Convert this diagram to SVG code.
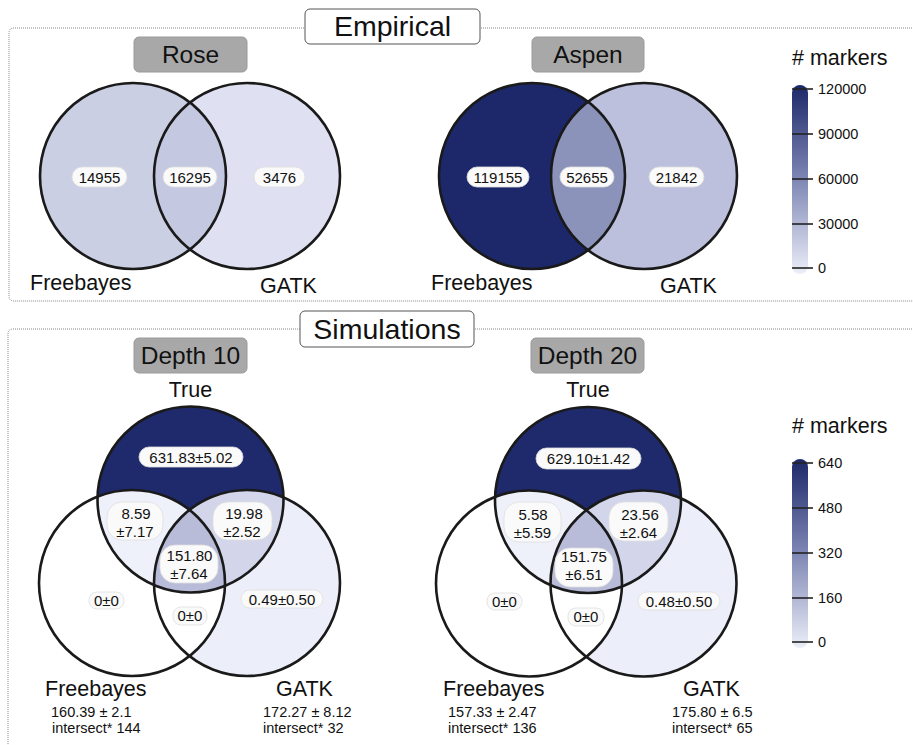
<svg xmlns="http://www.w3.org/2000/svg" width="913" height="745" viewBox="0 0 913 745">
<defs>
<style>
text{font-family:"Liberation Sans",Arial,sans-serif;fill:#111}
.frame{fill:none;stroke:#8a8a8a;stroke-width:1;stroke-dasharray:1 1}
.lbl{fill:#fff;stroke:#555;stroke-width:1}
.tag{fill:#a8a8a8;stroke:#9a9a9a;stroke-width:1}
.title{font-size:28.5px;text-anchor:middle}
.tagt{font-size:24.5px;text-anchor:middle}
.set{font-size:21.5px}
.ring{fill:none;stroke:#1a1a1a;stroke-width:2.6}
.pill{fill:#fafafa;stroke:#dedede;stroke-width:0.8}
.num{font-size:15px;text-anchor:middle}
.sub{font-size:14.5px}
.tick{stroke:#222;stroke-width:1.6}
.tl{font-size:14.5px}
</style>
<linearGradient id="gb" x1="0" y1="0" x2="0" y2="1">
<stop offset="0" stop-color="#1c2869"/>
<stop offset="0.5" stop-color="#7e87b4"/>
<stop offset="1" stop-color="#eceef8"/>
</linearGradient>
<clipPath id="cRoseL"><circle cx="133" cy="176" r="93"/></clipPath>
<clipPath id="cAspL"><circle cx="532" cy="176" r="93"/></clipPath>
<clipPath id="cT10"><circle cx="190.5" cy="499.5" r="93"/></clipPath>
<clipPath id="cF10"><circle cx="132" cy="583" r="93"/></clipPath>
<clipPath id="cT20"><circle cx="588" cy="500" r="93"/></clipPath>
<clipPath id="cF20"><circle cx="529" cy="583.5" r="93"/></clipPath>
</defs>

<g id="frames">
<path class="frame" d="M920 28 H14 Q9 28 9 33 V296 Q9 301 14 301 H920"/>
<path class="frame" d="M920 329 H13 Q8 329 8 334 V750"/>
</g>

<g id="empirical-label">
<rect class="lbl" x="305" y="9" width="175" height="35" rx="5"/>
<text class="title" x="392.5" y="36">Empirical</text>
</g>
<g id="simulations-label">
<rect class="lbl" x="300" y="311" width="174" height="36" rx="5"/>
<text class="title" x="387" y="339">Simulations</text>
</g>

<g id="rose">
<rect class="tag" x="134" y="37" width="113" height="35" rx="5"/>
<text class="tagt" x="190.5" y="63">Rose</text>
<circle cx="133" cy="176" r="93" fill="#cbcfe4"/>
<circle cx="247" cy="176" r="93" fill="#dfe1f2"/>
<circle cx="247" cy="176" r="93" fill="#c4c8e0" clip-path="url(#cRoseL)"/>
<circle class="ring" cx="133" cy="176" r="93"/>
<circle class="ring" cx="247" cy="176" r="93"/>
<rect class="pill" x="72" y="167" width="55" height="20" rx="10"/>
<text class="num" x="99.5" y="182.5">14955</text>
<rect class="pill" x="163" y="167" width="54" height="20" rx="10"/>
<text class="num" x="190" y="182.5">16295</text>
<rect class="pill" x="254" y="167" width="51" height="20" rx="10"/>
<text class="num" x="279.5" y="182.5">3476</text>
<text class="set" x="30" y="290">Freebayes</text>
<text class="set" x="260" y="293">GATK</text>
</g>

<g id="aspen">
<rect class="tag" x="532" y="37" width="112" height="35" rx="5"/>
<text class="tagt" x="588" y="63">Aspen</text>
<circle cx="532" cy="176" r="93" fill="#1c2869"/>
<circle cx="644" cy="176" r="93" fill="#bcc0dc"/>
<circle cx="644" cy="176" r="93" fill="#8b93bb" clip-path="url(#cAspL)"/>
<circle class="ring" cx="532" cy="176" r="93"/>
<circle class="ring" cx="644" cy="176" r="93"/>
<rect class="pill" x="467" y="167" width="62" height="20" rx="10"/>
<text class="num" x="498" y="182.5">119155</text>
<rect class="pill" x="560" y="167" width="54" height="20" rx="10"/>
<text class="num" x="587" y="182.5">52655</text>
<rect class="pill" x="649" y="167" width="55" height="20" rx="10"/>
<text class="num" x="676.5" y="182.5">21842</text>
<text class="set" x="431" y="290">Freebayes</text>
<text class="set" x="660" y="293">GATK</text>
</g>

<g id="legend-empirical">
<text class="set" x="792" y="65"># markers</text>
<rect x="792" y="85" width="16" height="189" rx="8" fill="url(#gb)"/>
<line class="tick" x1="792" y1="89" x2="813" y2="89"/>
<line class="tick" x1="792" y1="134" x2="813" y2="134"/>
<line class="tick" x1="792" y1="179" x2="813" y2="179"/>
<line class="tick" x1="792" y1="224" x2="813" y2="224"/>
<line class="tick" x1="792" y1="268" x2="813" y2="268"/>
<text class="tl" x="818" y="94">120000</text>
<text class="tl" x="818" y="139">90000</text>
<text class="tl" x="818" y="184">60000</text>
<text class="tl" x="818" y="229">30000</text>
<text class="tl" x="818" y="273">0</text>
</g>

<g id="depth10">
<rect class="tag" x="134" y="338" width="113" height="35" rx="5"/>
<text class="tagt" x="190.5" y="364">Depth 10</text>
<text class="set" x="190.5" y="397" text-anchor="middle">True</text>
<circle cx="247" cy="583" r="93" fill="#eceffa"/>
<circle cx="132" cy="583" r="93" fill="#ffffff"/>
<circle cx="190.5" cy="499.5" r="93" fill="#1f2a6c"/>
<circle cx="132" cy="583" r="93" fill="#eef0fa" clip-path="url(#cT10)"/>
<circle cx="247" cy="583" r="93" fill="#d3d6ea" clip-path="url(#cT10)"/>
<g clip-path="url(#cT10)"><circle cx="247" cy="583" r="93" fill="#b8bcd9" clip-path="url(#cF10)"/></g>
<circle class="ring" cx="190.5" cy="499.5" r="93"/>
<circle class="ring" cx="132" cy="583" r="93"/>
<circle class="ring" cx="247" cy="583" r="93"/>
<rect class="pill" x="139" y="447" width="104" height="20" rx="10"/>
<text class="num" x="191" y="462.5">631.83±5.02</text>
<rect class="pill" x="107" y="502" width="56" height="38" rx="15"/>
<text class="num" x="136" y="519">8.59</text>
<text class="num" x="135" y="536.5">±7.17</text>
<rect class="pill" x="213" y="502" width="59" height="38" rx="15"/>
<text class="num" x="244" y="519">19.98</text>
<text class="num" x="242" y="536.5">±2.52</text>
<rect class="pill" x="160" y="545" width="58" height="38" rx="15"/>
<text class="num" x="189.5" y="561">151.80</text>
<text class="num" x="189" y="578.5">±7.64</text>
<rect class="pill" x="89" y="592" width="35" height="17" rx="8"/>
<text class="num" x="106.5" y="605.5">0±0</text>
<rect class="pill" x="173" y="607" width="34" height="18" rx="8"/>
<text class="num" x="190" y="621">0±0</text>
<rect class="pill" x="241" y="590" width="82" height="18" rx="9"/>
<text class="num" x="282" y="604.5">0.49±0.50</text>
<text class="set" x="45" y="696">Freebayes</text>
<text class="sub" x="51" y="717">160.39 ± 2.1</text>
<text class="sub" x="52" y="733">intersect* 144</text>
<text class="set" x="276" y="696">GATK</text>
<text class="sub" x="263" y="717">172.27 ± 8.12</text>
<text class="sub" x="263" y="733">intersect*  32</text>
</g>

<g id="depth20">
<rect class="tag" x="531" y="338" width="113" height="35" rx="5"/>
<text class="tagt" x="587.5" y="364">Depth 20</text>
<text class="set" x="588" y="397" text-anchor="middle">True</text>
<circle cx="643.5" cy="583.5" r="93" fill="#eceffa"/>
<circle cx="529" cy="583.5" r="93" fill="#ffffff"/>
<circle cx="588" cy="500" r="93" fill="#1f2a6c"/>
<circle cx="529" cy="583.5" r="93" fill="#eef0fa" clip-path="url(#cT20)"/>
<circle cx="643.5" cy="583.5" r="93" fill="#d3d6ea" clip-path="url(#cT20)"/>
<g clip-path="url(#cT20)"><circle cx="643.5" cy="583.5" r="93" fill="#b8bcd9" clip-path="url(#cF20)"/></g>
<circle class="ring" cx="588" cy="500" r="93"/>
<circle class="ring" cx="529" cy="583.5" r="93"/>
<circle class="ring" cx="643.5" cy="583.5" r="93"/>
<rect class="pill" x="536" y="448" width="105" height="21" rx="10.5"/>
<text class="num" x="588.5" y="463.5">629.10±1.42</text>
<rect class="pill" x="504" y="502" width="57" height="40" rx="15"/>
<text class="num" x="533" y="520">5.58</text>
<text class="num" x="532.5" y="537.5">±5.59</text>
<rect class="pill" x="609" y="502" width="59" height="39" rx="15"/>
<text class="num" x="640" y="520">23.56</text>
<text class="num" x="638.5" y="537.5">±2.64</text>
<rect class="pill" x="555" y="548" width="58" height="39" rx="15"/>
<text class="num" x="584" y="562">151.75</text>
<text class="num" x="584" y="579.5">±6.51</text>
<rect class="pill" x="487" y="593" width="35" height="17" rx="8"/>
<text class="num" x="504.5" y="606.5">0±0</text>
<rect class="pill" x="568" y="608" width="36" height="18" rx="8"/>
<text class="num" x="586" y="622">0±0</text>
<rect class="pill" x="638" y="592" width="82" height="18" rx="9"/>
<text class="num" x="679" y="606.5">0.48±0.50</text>
<text class="set" x="443" y="696">Freebayes</text>
<text class="sub" x="448" y="717">157.33 ± 2.47</text>
<text class="sub" x="448" y="733">intersect* 136</text>
<text class="set" x="683" y="696">GATK</text>
<text class="sub" x="672" y="717">175.80 ± 6.5</text>
<text class="sub" x="672" y="733">intersect* 65</text>
</g>

<g id="legend-simulations">
<text class="set" x="792" y="433"># markers</text>
<rect x="792" y="459" width="16" height="189" rx="8" fill="url(#gb)"/>
<line class="tick" x1="792" y1="463" x2="813" y2="463"/>
<line class="tick" x1="792" y1="508" x2="813" y2="508"/>
<line class="tick" x1="792" y1="553" x2="813" y2="553"/>
<line class="tick" x1="792" y1="598" x2="813" y2="598"/>
<line class="tick" x1="792" y1="642" x2="813" y2="642"/>
<text class="tl" x="818" y="468">640</text>
<text class="tl" x="818" y="513">480</text>
<text class="tl" x="818" y="558">320</text>
<text class="tl" x="818" y="603">160</text>
<text class="tl" x="818" y="647">0</text>
</g>
</svg>
